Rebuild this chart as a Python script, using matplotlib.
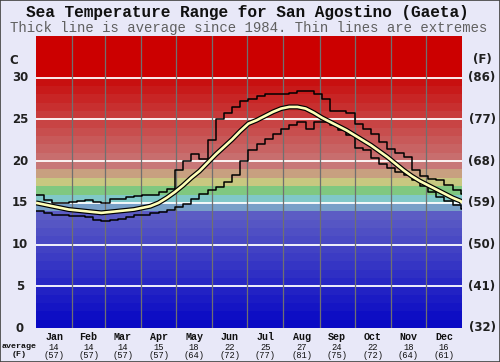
import matplotlib
matplotlib.use("Agg")
import matplotlib.pyplot as plt
from matplotlib.patches import Rectangle
import numpy as np

months = ["Jan", "Feb", "Mar", "Apr", "May", "Jun", "Jul", "Aug", "Sep", "Oct", "Nov", "Dec"]
month_avg_c = ["14", "14", "14", "15", "18", "22", "25", "27", "24", "22", "18", "16"]
month_avg_f = ["(57)", "(57)", "(57)", "(57)", "(64)", "(72)", "(77)", "(81)", "(75)", "(72)", "(64)", "(61)"]
month_starts = [0, 31, 59, 90, 120, 151, 181, 212, 243, 273, 304, 334, 365]

c_ticks = [0, 5, 10, 15, 20, 25, 30]
f_labels = ["(32)", "(41)", "(50)", "(59)", "(68)", "(77)", "(86)"]

days = list(range(0, 365, 7))
avg_temp = [15.0, 14.8, 14.6, 14.4, 14.2, 14.1, 14.0, 13.9, 13.8, 13.9, 14.0, 14.1, 14.2,
            14.4, 14.6, 15.0, 15.6, 16.3, 17.1, 18.0, 18.8, 19.8, 20.8, 21.7, 22.6, 23.6,
            24.5, 24.9, 25.4, 25.9, 26.3, 26.5, 26.5, 26.3, 25.8, 25.2, 24.7, 24.2, 23.7,
            23.1, 22.5, 21.9, 21.2, 20.5, 19.7, 18.9, 18.2, 17.6, 17.1, 16.6, 16.1, 15.6, 15.2]
max_temp = [16.0, 15.3, 15.0, 15.0, 15.1, 15.2, 15.3, 15.1, 15.0, 15.5, 15.5, 15.7, 15.8,
            15.9, 16.0, 16.3, 16.7, 18.9, 20.0, 20.8, 20.3, 22.5, 25.0, 25.8, 26.5, 27.2,
            27.4, 27.8, 28.0, 28.1, 28.1, 28.2, 28.4, 28.4, 28.0, 27.4, 26.0, 26.0, 25.8,
            24.5, 23.8, 23.3, 22.3, 21.5, 21.0, 20.5, 18.9, 18.2, 17.9, 17.7, 17.2, 16.6, 16.1]
min_temp = [14.0, 13.8, 13.6, 13.5, 13.4, 13.4, 13.3, 12.9, 12.8, 12.9, 13.1, 13.3, 13.5,
            13.6, 13.8, 13.9, 14.2, 14.5, 14.9, 15.5, 16.1, 16.6, 16.9, 17.5, 18.3, 20.0,
            21.3, 22.1, 22.6, 23.3, 23.8, 24.3, 24.7, 23.9, 24.7, 24.7, 24.3, 23.7, 23.1,
            21.6, 21.3, 20.4, 19.7, 19.2, 18.7, 18.3, 17.7, 17.0, 16.3, 15.7, 15.2, 14.8, 14.3]

# background band colours per degree
band_colors = []
for d in range(35):
    if d <= 13:
        v = int(8 + d * 6.5)
        band_colors.append((v / 255, v / 255, 0xc4 / 255))
    elif d == 14:
        band_colors.append("#78a0c8")
    elif d == 15:
        band_colors.append("#80c8c8")
    elif d == 16:
        band_colors.append("#80c880")
    elif d == 17:
        band_colors.append("#c8c880")
    elif d == 18:
        band_colors.append("#c8a080")
    elif d <= 29:
        g = (0x78 - (d - 19) * 10.4) / 255
        band_colors.append((0xc8 / 255, g, g))
    else:
        band_colors.append("#cc0000")

fig = plt.figure(figsize=(5.0, 3.62), dpi=100)
fig.patch.set_facecolor("#e8e8f8")
ax = fig.add_axes([36 / 500, 1 - 328 / 362, 426 / 500, 292 / 362])
ax.set_xlim(0, 365)
ax.set_ylim(0, 35)
for sp in ax.spines.values():
    sp.set_visible(False)
ax.set_xticks([])
ax.set_yticks([])

for d, col in enumerate(band_colors):
    ax.axhspan(d, d + 1, color=col, lw=0, zorder=0)

for t in c_ticks[1:]:
    ax.axhline(t, color="white", lw=1.3, zorder=1)
for m in month_starts[1:-1]:
    ax.axvline(m, color="#707070", lw=0.9, zorder=1)

ax.step(days + [365], max_temp + [max_temp[-1]], where="post", color="black", lw=1.1, zorder=3)
ax.step(days + [365], min_temp + [min_temp[-1]], where="post", color="black", lw=1.1, zorder=3)
ax.plot(days + [365], avg_temp + [15.0], color="black", lw=3.6, zorder=4, solid_capstyle="butt")
ax.plot(days + [365], avg_temp + [15.0], color="#ffffb8", lw=1.9, zorder=5, solid_capstyle="butt")

def yfig(v):
    return (1 - 328 / 362) + v / 35 * (292 / 362)

for t, fl in zip(c_ticks, f_labels):
    fig.text(20 / 500, yfig(t), str(t), ha="center", va="center", fontsize=8.5,
             fontweight="bold", family="DejaVu Sans", color="#202020")
    fig.text(482 / 500, yfig(t), fl, ha="center", va="center", fontsize=8.5,
             fontweight="bold", family="DejaVu Sans", color="#202020")
fig.text(14 / 500, 1 - 60 / 362, "C", ha="center", va="center", fontsize=8.5,
         fontweight="bold", family="DejaVu Sans", color="#202020")
fig.text(482 / 500, 1 - 60 / 362, "(F)", ha="center", va="center", fontsize=8.5,
         fontweight="bold", family="DejaVu Sans", color="#202020")

fig.text(0.495, 1 - 12 / 362, "Sea Temperature Range for San Agostino (Gaeta)", ha="center",
         va="center", fontsize=11.6, fontweight="bold", family="Liberation Mono", color="#101010")
fig.text(0.497, 1 - 28 / 362, "Thick line is average since 1984. Thin lines are extremes",
         ha="center", va="center", fontsize=10.1, family="Liberation Mono", color="#606060")

for i, m in enumerate(months):
    xc = (month_starts[i] + month_starts[i + 1]) / 2
    xf = (36 + xc / 365 * 426) / 500
    fig.text(xf, 1 - 337 / 362, m, ha="center", va="center", fontsize=7.2, fontweight="bold",
             family="Liberation Mono", color="#101010")
    fig.text(xf, 1 - 347 / 362, month_avg_c[i], ha="center", va="center", fontsize=6.3,
             family="Liberation Mono", color="#101010")
    fig.text(xf, 1 - 355 / 362, month_avg_f[i], ha="center", va="center", fontsize=6.3,
             family="Liberation Mono", color="#101010")
fig.text(19 / 500, 1 - 347 / 362, "average", ha="center", va="center", fontsize=6.0,
         fontweight="bold", family="Liberation Mono", color="#101010")
fig.text(19 / 500, 1 - 355 / 362, "(F)", ha="center", va="center", fontsize=6.0,
         fontweight="bold", family="Liberation Mono", color="#101010")

fig.patches.append(Rectangle((0, 0), 1, 1, transform=fig.transFigure, fill=False,
                             edgecolor="#404040", lw=1.2, zorder=10))

fig.savefig("out.png", dpi=100, facecolor=fig.get_facecolor())
